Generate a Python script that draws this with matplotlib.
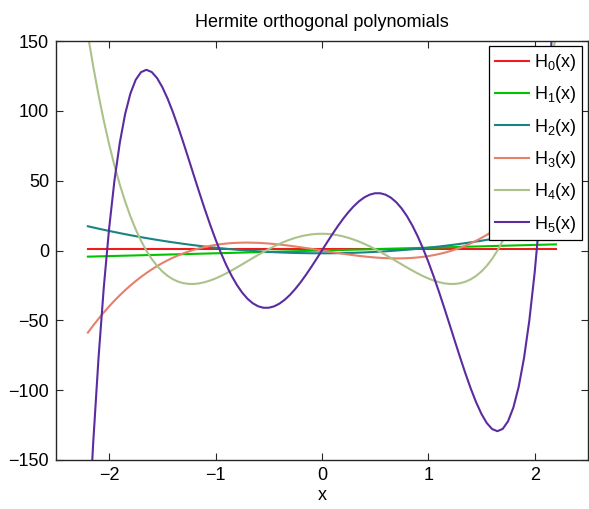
"""Hermite orthogonal polynomials, MATLAB-style line chart."""

import matplotlib

matplotlib.use("Agg")
import matplotlib.pyplot as plt
import numpy as np

plt.rcParams["font.family"] = ["Liberation Sans", "DejaVu Sans"]
plt.rcParams["mathtext.fontset"] = "custom"
plt.rcParams["mathtext.rm"] = "Liberation Sans"
plt.rcParams["mathtext.it"] = "Liberation Sans"

RED = "#f01c1c"
GREEN = "#00c400"
TEAL = "#1a8383"
SALMON = "#e5806b"
SAGE = "#abc28a"
PURPLE = "#5a2ca0"
INK = "#262626"

# sampled values, x = -2.2 .. 2.2 in steps of 0.1
x_coarse = np.round(np.arange(-2.2, 2.2001, 0.1), 2)
# the curvier ones are sampled every 0.05
x_fine = np.round(np.arange(-2.2, 2.2001, 0.05), 2)

h0 = [1.0] * 45
h1 = [-4.4, -4.2, -4.0, -3.8, -3.6, -3.4, -3.2, -3.0, -2.8, -2.6, -2.4, -2.2, -2.0,
      -1.8, -1.6, -1.4, -1.2, -1.0, -0.8, -0.6, -0.4, -0.2, 0.0, 0.2, 0.4, 0.6, 0.8,
      1.0, 1.2, 1.4, 1.6, 1.8, 2.0, 2.2, 2.4, 2.6, 2.8, 3.0, 3.2, 3.4, 3.6, 3.8, 4.0,
      4.2, 4.4]
h2 = [17.36, 15.64, 14.0, 12.44, 10.96, 9.56, 8.24, 7.0, 5.84, 4.76, 3.76, 2.84, 2.0,
      1.24, 0.56, -0.04, -0.56, -1.0, -1.36, -1.64, -1.84, -1.96, -2.0, -1.96, -1.84,
      -1.64, -1.36, -1.0, -0.56, -0.04, 0.56, 1.24, 2.0, 2.84, 3.76, 4.76, 5.84, 7.0,
      8.24, 9.56, 10.96, 12.44, 14.0, 15.64, 17.36]
h3 = [-58.78, -53.71, -48.89, -44.32, -40.0, -35.92, -32.07, -28.45, -25.06, -21.88,
      -18.9, -16.14, -13.57, -11.19, -9.0, -6.99, -5.15, -3.48, -1.98, -0.63, 0.58,
      1.63, 2.55, 3.34, 4.0, 4.54, 4.97, 5.29, 5.5, 5.63, 5.66, 5.6, 5.47, 5.27, 5.0,
      4.67, 4.29, 3.86, 3.38, 2.88, 2.34, 1.77, 1.19, 0.6, 0.0, -0.6, -1.19, -1.77,
      -2.34, -2.88, -3.38, -3.86, -4.29, -4.67, -5.0, -5.27, -5.47, -5.6, -5.66, -5.63,
      -5.5, -5.29, -4.97, -4.54, -4.0, -3.34, -2.55, -1.63, -0.58, 0.63, 1.98, 3.48,
      5.15, 6.99, 9.0, 11.19, 13.57, 16.14, 18.9, 21.88, 25.06, 28.45, 32.07, 35.92,
      40.0, 44.32, 48.89, 53.71, 58.78]
h4 = [154.49, 131.99, 111.49, 92.86, 76.0, 60.82, 47.23, 35.14, 24.44, 15.06, 6.91,
      -0.09, -6.02, -10.97, -15.0, -18.19, -20.61, -22.34, -23.42, -23.94, -23.94,
      -23.5, -22.65, -21.47, -20.0, -18.29, -16.38, -14.33, -12.17, -9.94, -7.68,
      -5.42, -3.21, -1.06, 1.0, 2.94, 4.73, 6.36, 7.81, 9.06, 10.11, 10.93, 11.52,
      11.88, 12.0, 11.88, 11.52, 10.93, 10.11, 9.06, 7.81, 6.36, 4.73, 2.94, 1.0,
      -1.06, -3.21, -5.42, -7.68, -9.94, -12.17, -14.33, -16.38, -18.29, -20.0, -21.47,
      -22.65, -23.5, -23.94, -23.94, -23.42, -22.34, -20.61, -18.19, -15.0, -10.97,
      -6.02, -0.09, 6.91, 15.06, 24.44, 35.14, 47.23, 60.82, 76.0, 92.86, 111.49,
      131.99, 154.49]
h5 = [-209.48, -137.94, -77.15, -26.14, 16.0, 50.14, 77.09, 97.62, 112.46, 122.28,
      127.73, 129.39, 127.82, 123.53, 117.0, 108.67, 98.94, 88.17, 76.71, 64.84, 52.85,
      40.98, 29.42, 18.38, 8.0, -1.58, -10.26, -17.94, -24.57, -30.09, -34.5, -37.77,
      -39.93, -40.99, -41.0, -40.01, -38.09, -35.31, -31.76, -27.53, -22.73, -17.46,
      -11.84, -5.98, 0.0, 5.98, 11.84, 17.46, 22.73, 27.53, 31.76, 35.31, 38.09, 40.01,
      41.0, 40.99, 39.93, 37.77, 34.5, 30.09, 24.57, 17.94, 10.26, 1.58, -8.0, -18.38,
      -29.42, -40.98, -52.85, -64.84, -76.71, -88.17, -98.94, -108.67, -117.0, -123.53,
      -127.82, -129.39, -127.73, -122.28, -112.46, -97.62, -77.09, -50.14, -16.0, 26.14,
      77.15, 137.94, 209.48]

series = [
    (x_coarse, h0, RED, r"H$_0$(x)"),
    (x_coarse, h1, GREEN, r"H$_1$(x)"),
    (x_coarse, h2, TEAL, r"H$_2$(x)"),
    (x_fine, h3, SALMON, r"H$_3$(x)"),
    (x_fine, h4, SAGE, r"H$_4$(x)"),
    (x_fine, h5, PURPLE, r"H$_5$(x)"),
]

fig = plt.figure(figsize=(5.89, 5.09), dpi=100)
ax = fig.add_axes([0.095, 0.0963, 0.903, 0.8231])

for xs, ys, color, label in series:
    ax.plot(xs, ys, color=color, linewidth=1.5, label=label)

ax.set_xlim(-2.5, 2.5)
ax.set_ylim(-150, 150)
ax.set_xticks([-2, -1, 0, 1, 2])
ax.set_yticks([-150, -100, -50, 0, 50, 100, 150])
ax.tick_params(direction="in", top=True, right=True, length=5, width=0.8,
               labelsize=13, colors=INK, labelcolor="black", pad=5)
for spine in ax.spines.values():
    spine.set_color(INK)
    spine.set_linewidth(1.0)

ax.set_xlabel("x", fontsize=13, labelpad=2)
ax.set_title("Hermite orthogonal polynomials", fontsize=13, pad=10)

legend = ax.legend(loc="upper right", fontsize=13, handlelength=1.9,
                   handletextpad=0.3, labelspacing=0.63, borderpad=0.3,
                   borderaxespad=0.3, fancybox=False, framealpha=1.0,
                   edgecolor="black")
legend.get_frame().set_linewidth(0.9)

fig.savefig("out.png", dpi=100)
